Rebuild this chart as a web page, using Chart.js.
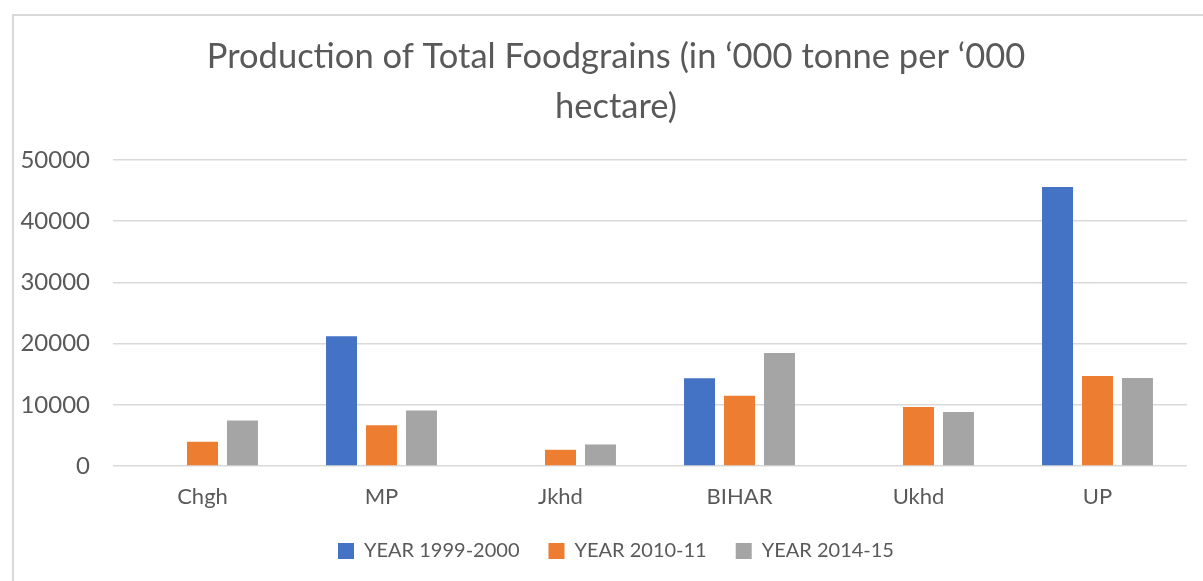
<!DOCTYPE html>
<html>
<head>
<meta charset="utf-8">
<script src="https://cdn.jsdelivr.net/npm/chart.js@4"></script>
<style>
  html, body { margin: 0; padding: 0; background: #fff; }
  #wrap { position: relative; width: 1203px; height: 581px; }
</style>
</head>
<body>
<div id="wrap"><canvas id="myChart" width="1203" height="581"></canvas></div>
<script>
const states = ["Chgh", "MP", "Jkhd", "BIHAR", "Ukhd", "UP"];
const year1999 = [null, 21220, null, 14330, null, 45600];
const year2010 = [3960, 6680, 2650, 11500, 9660, 14710];
const year2014 = [7430, 9060, 3520, 18450, 8840, 14380];

const textColor = "#595959";
const gridColor = "#d9d9d9";
const fontFamily = "Lato, 'Open Sans', sans-serif";

// light frame along the top and left edge of the chart box
const framePlugin = {
  id: "frame",
  beforeDraw(chart) {
    const ctx = chart.ctx;
    ctx.save();
    ctx.fillStyle = "#fff";
    ctx.fillRect(0, 0, chart.width, chart.height);
    ctx.strokeStyle = "#d9d9d9";
    ctx.lineWidth = 2;
    ctx.beginPath();
    ctx.moveTo(13, chart.height);
    ctx.lineTo(13, 15);
    ctx.lineTo(chart.width, 15);
    ctx.stroke();
    ctx.restore();
  },
};

// title and legend are centred on the whole chart box, which runs past the right edge
const centerShift = {
  id: "centerShift",
  afterLayout(chart) {
    const shift = 45;
    [chart.titleBlock, chart.legend].forEach((box) => {
      if (!box) return;
      box.left += shift;
      box.width -= shift;
    });
  },
};

const ctx = document.getElementById("myChart");

new Chart(ctx, {
  type: "bar",
  data: {
    labels: states,
    datasets: [
      { label: "YEAR 1999-2000", data: year1999, backgroundColor: "#4472c4" },
      { label: "YEAR 2010-11", data: year2010, backgroundColor: "#ed7d31" },
      { label: "YEAR 2014-15", data: year2014, backgroundColor: "#a5a5a5" },
    ],
  },
  plugins: [framePlugin, centerShift],
  options: {
    responsive: false,
    animation: false,
    layout: { padding: { left: 0, right: 16, top: 0, bottom: 10 } },
    datasets: {
      bar: { categoryPercentage: 0.67, barPercentage: 0.775 },
    },
    plugins: {
      title: {
        display: true,
        text: ["Production of Total Foodgrains (in ‘000 tonne per ‘000", "hectare)"],
        color: textColor,
        font: { family: fontFamily, size: 34.5, weight: "normal", lineHeight: 1.45 },
        padding: { top: 32, bottom: 28 },
      },
      legend: {
        position: "bottom",
        labels: {
          color: textColor,
          font: { family: fontFamily, size: 20 },
          boxWidth: 16,
          boxHeight: 16,
          padding: 29,
        },
      },
      tooltip: { enabled: false },
    },
    scales: {
      x: {
        grid: { display: false },
        border: { display: false },
        ticks: {
          color: textColor,
          font: { family: fontFamily, size: 22 },
          padding: 10,
        },
        afterFit(scale) {
          scale.height = 46;
        },
      },
      y: {
        min: 0,
        max: 50000,
        ticks: {
          stepSize: 10000,
          color: textColor,
          font: { family: fontFamily, size: 24 },
          padding: 23,
          callback: (value) => String(value),
        },
        grid: { color: gridColor, lineWidth: 1.5, drawTicks: false },
        border: { display: false },
        afterFit(scale) {
          scale.width = 113;
        },
      },
    },
  },
});
</script>
</body>
</html>
